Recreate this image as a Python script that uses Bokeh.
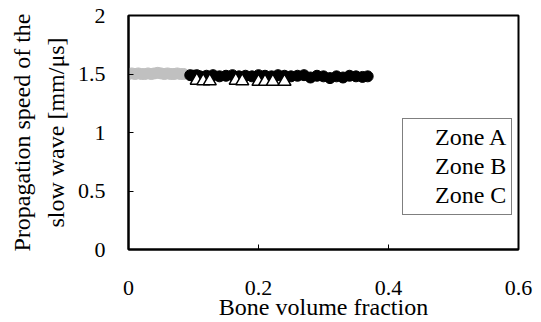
from bokeh.plotting import figure
from bokeh.models import Legend, LegendItem, FixedTicker
from bokeh.embed import file_html
from bokeh.resources import INLINE

# Zone C (grey circles)
zone_c_x = [0.0, 0.005, 0.01, 0.015, 0.02, 0.025, 0.03, 0.035, 0.04, 0.045, 0.05,
            0.055, 0.06, 0.065, 0.07, 0.075, 0.08, 0.085]
zone_c_y = [1.50, 1.505, 1.50, 1.505, 1.50, 1.50, 1.505, 1.50, 1.505, 1.51, 1.505,
            1.50, 1.505, 1.50, 1.50, 1.505, 1.50, 1.50]

# Zone A (black circles)
zone_a_x = [0.095, 0.10, 0.105, 0.11, 0.12, 0.13, 0.14, 0.15, 0.16, 0.17, 0.18,
            0.19, 0.20, 0.21, 0.22, 0.23, 0.24, 0.25, 0.26, 0.27, 0.28, 0.29,
            0.30, 0.31, 0.32, 0.33, 0.34, 0.35, 0.36, 0.368]
zone_a_y = [1.49, 1.485, 1.49, 1.48, 1.485, 1.49, 1.48, 1.485, 1.49, 1.48, 1.485,
            1.48, 1.49, 1.485, 1.48, 1.49, 1.485, 1.48, 1.485, 1.49, 1.47, 1.485,
            1.48, 1.465, 1.48, 1.47, 1.485, 1.48, 1.475, 1.48]

# Zone B (open triangles)
zone_b_x = [0.105, 0.115, 0.125, 0.165, 0.175, 0.20, 0.21, 0.222, 0.24]
zone_b_y = [1.445, 1.44, 1.44, 1.445, 1.44, 1.435, 1.435, 1.435, 1.435]

zone_labels = ["Zone A", "Zone B", "Zone C"]
x_ticks = [0, 0.2, 0.4, 0.6]
x_tick_labels = ["0", "0.2", "0.4", "0.6"]
y_ticks = [0, 0.5, 1, 1.5, 2]
y_tick_labels = ["0", "0.5", "1", "1.5", "2"]

FONT = "Liberation Serif"

p = figure(width=540, height=322, x_range=(0, 0.6), y_range=(0, 2),
           output_backend="svg", toolbar_location=None,
           min_border_left=128, min_border_right=22, min_border_top=15,
           min_border_bottom=71)

p.xgrid.visible = False
p.ygrid.visible = False
p.outline_line_color = "black"
p.outline_line_width = 2

for ax in (p.xaxis[0], p.yaxis[0]):
    ax.axis_line_color = "black"
    ax.axis_line_width = 2
    ax.major_tick_in = 5
    ax.major_tick_out = 0
    ax.minor_tick_in = 0
    ax.minor_tick_out = 0
    ax.major_tick_line_color = "black"
    ax.major_label_text_font = FONT
    ax.major_label_text_font_size = "22px"
    ax.major_label_text_color = "black"
    ax.axis_label_text_font = FONT
    ax.axis_label_text_font_size = "24px"
    ax.axis_label_text_font_style = "normal"
    ax.axis_label_text_color = "black"

p.yaxis.axis_label_text_line_height = 1.3
p.xaxis.axis_label_text_line_height = 1.0

p.xaxis.ticker = FixedTicker(ticks=x_ticks)
p.xaxis.major_label_overrides = dict(zip(x_ticks, x_tick_labels))
p.yaxis.ticker = FixedTicker(ticks=y_ticks)
p.yaxis.major_label_overrides = dict(zip(y_ticks, y_tick_labels))
p.xaxis.major_label_standoff = 31
p.yaxis.major_label_standoff = 23
p.xaxis.axis_label = "Bone volume fraction"
p.xaxis.axis_label_standoff = -4
p.yaxis.axis_label = "Propagation speed of the\nslow wave [mm/\u03bcs]"
p.yaxis.axis_label_standoff = 6

p.scatter(zone_c_x, zone_c_y, size=11, marker="circle",
          fill_color="#c0c0c0", line_color="#c0c0c0")
p.scatter(zone_a_x, zone_a_y, size=11, marker="circle",
          fill_color="black", line_color="black")
p.scatter(zone_b_x, zone_b_y, size=13, marker="triangle",
          fill_color="white", line_color="black", line_width=1.5)

# legend entries without visible glyphs
items = []
for lab in zone_labels:
    r = p.scatter(x=[], y=[], size=1, fill_alpha=0, line_alpha=0)
    items.append(LegendItem(label=lab, renderers=[r]))

legend = Legend(items=items, location=(274, 34))
legend.border_line_color = "black"
legend.border_line_width = 1.5
legend.background_fill_color = "white"
legend.background_fill_alpha = 1
legend.label_text_font = FONT
legend.label_text_font_size = "24px"
legend.label_text_color = "black"
legend.glyph_height = 26
legend.label_height = 26
legend.glyph_width = 20
legend.label_standoff = 7
legend.spacing = 2
legend.padding = 5
legend.margin = 0
p.add_layout(legend, "center")

open("out.html", "w").write(file_html(p, INLINE))
